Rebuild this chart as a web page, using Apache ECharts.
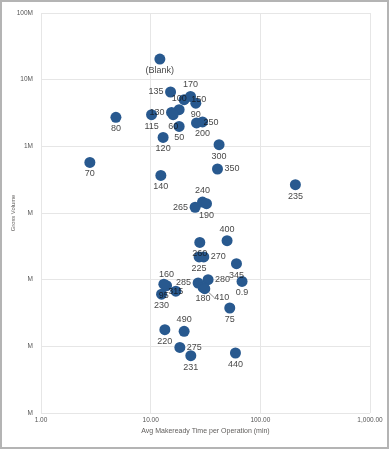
<!DOCTYPE html>
<html><head><meta charset="utf-8">
<script src="https://cdn.jsdelivr.net/npm/echarts@6/dist/echarts.min.js"></script>
<style>html,body{margin:0;padding:0;background:#fff}#c{width:390px;height:450px}</style>
</head><body><div id="c"></div>
<script>
// ---- data ----
const pointLabels = ['(Blank)','135','170','150','90','100','130','115','60','50','120','250','200','300','80','70','140','350','235','265','240','190','400','260','225','270','345','0.9','280','285','180','410','160','95','230','315','75','490','220','275','231','440'];
const makereadyMin = [12.13,15.18,23.09,20.19,25.8,18.18,15.5,10.19,16.03,18.18,12.99,26.18,29.7,42.06,4.82,2.79,12.38,40.67,208.8,25.43,29.7,32.29,49.74,28.06,27.65,30.51,60.58,68.1,33.39,27.08,30.07,31.15,13.96,13.19,12.57,16.97,52.64,20.19,13.47,18.45,23.23,59.32];
const grossVolume = [20.4e6,6.53e6,5.61e6,5.01e6,4.44e6,3.55e6,3.23e6,2.98e6,2.98e6,1.99e6,1.36e6,2.24e6,2.32e6,1.06e6,2.72e6,574e3,366e3,457e3,266e3,122e3,146e3,138e3,38.4e3,36.2e3,21.9e3,21.9e3,17.4e3,9.42e3,10.0e3,8.91e3,7.66e3,7.32e3,8.12e3,8.56e3,6.06e3,6.72e3,3.76e3,1.68e3,1.78e3,964,724,794];
const xTickValues = [1,10,100,1000];
const xTickLabels = ['1.00','10.00','100.00','1,000.00'];
const yTickValues = [100,1000,10000,100000,1000000,10000000,100000000];
const yTickLabels = ['M','M','M','M','1M','10M','100M'];

// ---- label placement (layout only) ----
const labelSide = ['bottom','left','top','right','bottom','top','left','bottom','bottom','bottom','bottom','right','bottom','bottom','bottom','bottom','bottom','right','bottom','left','top','bottom','top','bottom','bottom','right','bottom','bottom','right','left','bottom','inside','top','bottom','bottom','inside','bottom','top','bottom','right','bottom','bottom'];
const labelNudge = {'250':[0,-7],'285':[5,-2],'315':[4,6],'60':[-2,0]};
const leaderLabels = {'410':[17,9]};

function tickText(v, vals, labels){
  for (let i=0;i<vals.length;i++){ if (Math.abs(Math.log10(v)-Math.log10(vals[i]))<1e-6) return labels[i]; }
  return '';
}

const pointData = pointLabels.map((n,i)=>({name:n, value:[makereadyMin[i], grossVolume[i]]}));
const labelData = pointLabels.map((n,i)=>{
  const item = {name:n, value:[makereadyMin[i], grossVolume[i]], label:{position:labelSide[i]}};
  if (labelNudge[n]) item.label.offset = labelNudge[n];
  if (leaderLabels[n]) item.labelLine = {show:true, length2:0, lineStyle:{color:'#8a8a8a', width:1}};
  return item;
});

const chart = echarts.init(document.getElementById('c'), null, {renderer:'canvas'});
const font = 'Liberation Sans, Arial, sans-serif';
chart.setOption({
  animation:false,
  backgroundColor:'#fff',
  graphic:[{type:'rect', shape:{x:1,y:1,width:387,height:447}, style:{fill:'none', stroke:'#b4b4b4', lineWidth:2}, silent:true}],
  grid:{left:41, right:20, top:13, bottom:37, containLabel:false, outerBoundsMode:'none'},
  xAxis:{type:'log', logBase:10, min:1, max:1000, splitNumber:3,
    name:'Avg Makeready Time per Operation (min)', nameLocation:'middle', nameGap:15, nameMoveOverlap:false,
    nameTextStyle:{fontSize:7, color:'#605e5c', fontFamily:font},
    axisLine:{show:false}, axisTick:{show:false},
    splitLine:{show:true, lineStyle:{color:'#e6e6e6', width:1}},
    axisLabel:{fontSize:6.5, color:'#555', fontFamily:font, margin:4,
      formatter:v=>tickText(v,xTickValues,xTickLabels)}},
  yAxis:{type:'log', logBase:10, min:100, max:100000000, splitNumber:6,
    name:'Gross Volume', nameLocation:'middle', nameGap:25, nameRotate:90, nameMoveOverlap:false,
    nameTextStyle:{fontSize:5.8, color:'#605e5c', fontFamily:font},
    axisLine:{show:false}, axisTick:{show:false},
    splitLine:{show:true, lineStyle:{color:'#e6e6e6', width:1}},
    axisLabel:{fontSize:6.5, color:'#555', fontFamily:font, margin:8,
      formatter:v=>tickText(v,yTickValues,yTickLabels)}},
  series:[
    {type:'scatter', symbol:'circle', symbolSize:11, z:2,
      itemStyle:{color:'#28598f', opacity:1},
      label:{show:false}, emphasis:{disabled:true},
      data:pointData},
    {type:'scatter', symbol:'circle', symbolSize:11, z:3, silent:true,
      itemStyle:{color:'rgba(0,0,0,0)'},
      label:{show:true, formatter:'{b}', fontSize:9, color:'#111', fontFamily:font, distance:1.5},
      labelLine:{show:false},
      labelLayout:function(p){
        const n = pointLabels[p.dataIndex];
        if (leaderLabels[n]) return {dx:leaderLabels[n][0], dy:leaderLabels[n][1]};
        return {};
      },
      emphasis:{disabled:true},
      data:labelData}
  ]
});
</script></body></html>
